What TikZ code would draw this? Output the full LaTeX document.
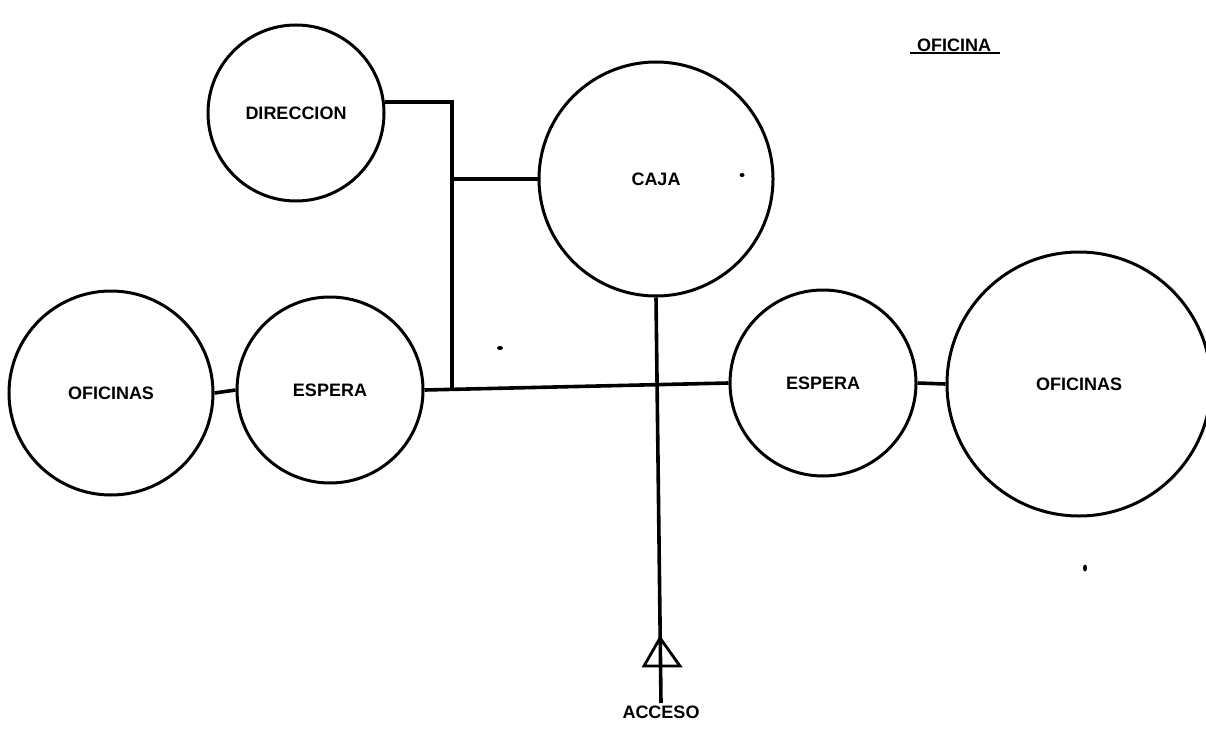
\documentclass[tikz,border=0pt]{standalone}
\usepackage{fontspec}
\setmainfont{Liberation Sans}
\begin{document}
\begin{tikzpicture}[x=1pt,y=-1pt,
  room/.style={circle,draw,line width=3pt,inner sep=0pt,font=\fontsize{18}{20}\selectfont\bfseries},
  link/.style={line width=3.6pt},
  lbl/.style={inner sep=0pt,font=\fontsize{18}{20}\selectfont\bfseries}]
\useasboundingbox (0,0) rectangle (1206,730);
\node[room,minimum size=176pt] (dir) at (296,113) {DIRECCION};
\node[room,minimum size=234pt] (caja) at (656,179) {CAJA};
\node[room,minimum size=204pt] (ofiL) at (111,393) {OFICINAS};
\node[room,minimum size=186pt] (espL) at (330,390) {ESPERA};
\node[room,minimum size=186pt] (espR) at (823,383) {ESPERA};
\node[room,minimum size=264pt] (ofiR) at (1079,384) {OFICINAS};
\coordinate (v) at (452,389);
\coordinate (acc) at (661,703);
\draw[link] (dir.7) -| (v);
\draw[link] (caja.west) -- (caja.west -| v);
\draw[link] (espL.east) -- (espR.west);
\draw[link] (ofiL.east) -- (espL.west);
\draw[link] (espR.east) -- (ofiR.west);
\draw[link] (caja.south) -- (acc);
\coordinate (ta) at (660,638);
\coordinate (tb) at (644,666);
\coordinate (tc) at (680,666);
\draw[line width=2.8pt,line join=miter] (ta) -- (tb) -- (tc) -- cycle;
\node[lbl,anchor=north] (acceso) at (661,706) {ACCESO};
\node[lbl] (title) at (954,45) {OFICINA};
\coordinate (ul1) at (910,53);
\coordinate (ul2) at (1000,53);
\draw[line width=2.4pt] (ul1) -- (ul2);
\fill (742,175) ellipse (2.5pt and 2pt);
\fill (500,348) ellipse (3pt and 2pt);
\fill (1085,568) ellipse (2pt and 3.5pt);
\end{tikzpicture}
\end{document}
